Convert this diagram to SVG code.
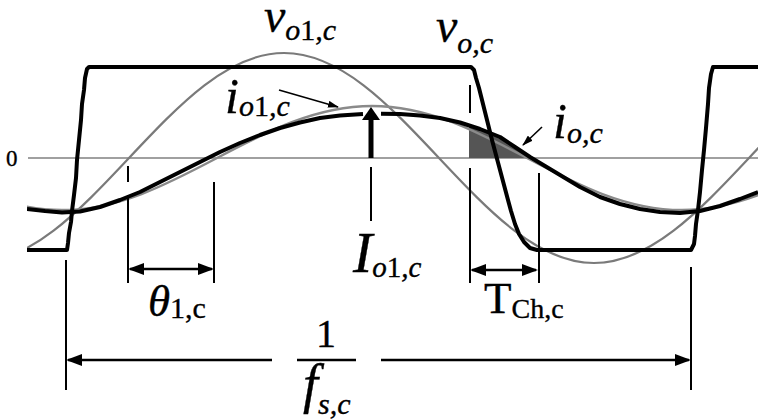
<svg xmlns="http://www.w3.org/2000/svg" width="758" height="420" viewBox="0 0 758 420">
<defs>
<style>
.t{font-family:"Liberation Serif","Times New Roman",serif;fill:#000;stroke:#000;stroke-width:0.35}
.it{font-style:italic}
.mk{stroke:#000;stroke-width:2;fill:none}
.dim{stroke:#000;stroke-width:2.6;fill:none}
.lead{stroke:#000;stroke-width:1.6;fill:none}
</style>
<clipPath id="clip"><rect x="27" y="0" width="731" height="420"/></clipPath>
<marker id="ah" viewBox="0 0 16 12" refX="14" refY="6" markerWidth="16" markerHeight="12" markerUnits="userSpaceOnUse" orient="auto-start-reverse"><path d="M0,0 L16,6 L0,12 z" fill="#000"/></marker>
<marker id="sa" viewBox="0 0 11 7" refX="10" refY="3.5" markerWidth="11" markerHeight="7" markerUnits="userSpaceOnUse" orient="auto"><path d="M0,0 L11,3.5 L0,7 z" fill="#000"/></marker>
</defs>
<rect width="758" height="420" fill="#fff"/>

<g id="axis">
<line x1="28" y1="158" x2="758" y2="158" stroke="#808080" stroke-width="1.7"/>
<text class="t" x="6" y="166" font-size="23">0</text>
</g>

<g id="shading">
<polygon points="469,158 469,125.4 480,129 500,137 515,147 530,157 531.5,158" fill="#555"/>
</g>

<g id="waveforms" clip-path="url(#clip)" fill="none" stroke-linejoin="round">
<path id="v_o1" d="M-26,263 C30.1,263 78.4,211.8 129,158 C179.6,104.2 227.9,53 284,53 C340.1,53 388.4,104.2 439,158 C489.6,211.8 537.9,263 594,263 C650.1,263 698.4,211.8 749,158 C799.6,104.2 847.9,53 904,53" stroke="#7a7a7a" stroke-width="2.2"/>
<path id="i_o1" d="M-93,158 C-42.4,184.7 5.9,210 62,210 C118.1,210 166.4,184.7 217,158 C267.6,131.3 315.9,106 372,106 C428.1,106 476.4,131.3 527,158 C577.6,184.7 625.9,210 682,210 C738.1,210 786.4,184.7 837,158" stroke="#8a8a8a" stroke-width="2.4"/>
<path id="i_o_a" d="M27,209 L45,211 L62,212.5 L80,211.5 L100,207 L120,200 L140,192 L160,182 L180,172 L200,162 L220,152 L240,143 L260,135 L280,128 L300,122.5 L320,118 L340,115.5 L363,114" stroke="#000" stroke-width="4"/>
<path id="i_o_b" d="M381,113.8 L400,114 L420,115.5 L440,118 L460,122.5 L480,129 L500,137 L515,147 L530,157 L545,166 L560,175 L580,187 L600,197 L620,204 L640,209 L660,212 L680,213 L700,211 L720,206 L740,199 L758,192" stroke="#000" stroke-width="4"/>
<path id="v_o" d="M27,250 L67,250 L68,243 L69,233 L71,222 L72,211 L74,195 L76,178 L77,160 L79,140 L81,120 L82,104 L84,90 L85,78 L87,69 L89,67 L471,67 L474,70 L476,78 L479,88 L482,100 L485,112 L489,128 L492,140 L496,155 L500,170 L504,185 L508,200 L511,211 L515,224 L519,234 L524,242 L530,248 L537,250 L691,250 L694,244 L695,236 L696,224 L698,210 L700,192 L702,170 L704,150 L706,128 L708,104 L709,88 L711,74 L713,67 L758,67" stroke="#000" stroke-width="4"/>
</g>

<g id="markers">
<line class="mk" x1="128" y1="166" x2="128" y2="182"/>
<line class="mk" x1="128" y1="195" x2="128" y2="283"/>
<line class="mk" x1="214" y1="182" x2="214" y2="283"/>
<line class="mk" x1="371" y1="167" x2="371" y2="221"/>
<line class="mk" x1="470" y1="85" x2="470" y2="113"/>
<line class="mk" x1="470" y1="168" x2="470" y2="283"/>
<line class="mk" x1="539" y1="173" x2="539" y2="283"/>
<line class="mk" x1="66" y1="260" x2="66" y2="390"/>
<line class="mk" x1="691" y1="267" x2="691" y2="390"/>
</g>

<g id="connectors">
<line id="arr-Io1" x1="371" y1="158" x2="371" y2="117" stroke="#000" stroke-width="5"/>
<polygon points="371,107 362,120 380,120" fill="#000"/>
<line id="arr-theta" class="dim" x1="130" y1="269" x2="212" y2="269" marker-start="url(#ah)" marker-end="url(#ah)"/>
<line id="arr-Tch" class="dim" x1="472" y1="270" x2="536" y2="270" marker-start="url(#ah)" marker-end="url(#ah)"/>
<line id="arr-per-left" class="dim" x1="272" y1="360" x2="68" y2="360" stroke-width="2.2" marker-end="url(#ah)"/>
<line id="arr-per-right" class="dim" x1="381" y1="360" x2="689" y2="360" stroke-width="2.2" marker-end="url(#ah)"/>
<line id="lead-io1" class="lead" x1="279" y1="90" x2="338" y2="107" marker-end="url(#sa)"/>
<line id="lead-io" class="lead" x1="542" y1="127" x2="523" y2="145" marker-end="url(#sa)"/>
</g>

<g id="label-vo1">
<text class="t" x="264" y="32"><tspan class="it" font-size="48">v</tspan><tspan class="it" font-size="30" dy="8">o</tspan><tspan font-size="30">1</tspan><tspan class="it" font-size="30">,c</tspan></text>
</g>
<g id="label-vo">
<text class="t" x="436" y="42"><tspan class="it" font-size="48">v</tspan><tspan class="it" font-size="30" dy="11">o,c</tspan></text>
</g>
<g id="label-io1">
<text class="t" x="225" y="113"><tspan class="it" font-size="50">i</tspan><tspan class="it" font-size="30" dy="3">o</tspan><tspan font-size="30">1</tspan><tspan class="it" font-size="30">,c</tspan></text>
</g>
<g id="label-io">
<text class="t" x="553" y="138"><tspan class="it" font-size="50">i</tspan><tspan class="it" font-size="30" dy="5">o,c</tspan></text>
</g>
<g id="label-Io1">
<text class="t" x="353" y="272"><tspan class="it" font-size="58">I</tspan><tspan class="it" font-size="29" dy="5">o</tspan><tspan font-size="29">1</tspan><tspan class="it" font-size="29">,c</tspan></text>
</g>
<g id="label-theta">
<text class="t" x="148" y="316"><tspan class="it" font-size="45">θ</tspan><tspan font-size="30" dy="2">1,c</tspan></text>
</g>
<g id="label-Tch">
<text class="t" x="484" y="313"><tspan font-size="45">T</tspan><tspan font-size="28" dy="5">Ch,c</tspan></text>
</g>
<g id="label-period">
<text class="t" x="326" y="347" font-size="40" text-anchor="middle">1</text>
<line x1="297" y1="360" x2="356" y2="360" stroke="#000" stroke-width="2.4"/>
<text class="t" x="303" y="402"><tspan class="it" font-size="54">f</tspan><tspan class="it" font-size="30" dy="12">s,c</tspan></text>
</g>
</svg>
